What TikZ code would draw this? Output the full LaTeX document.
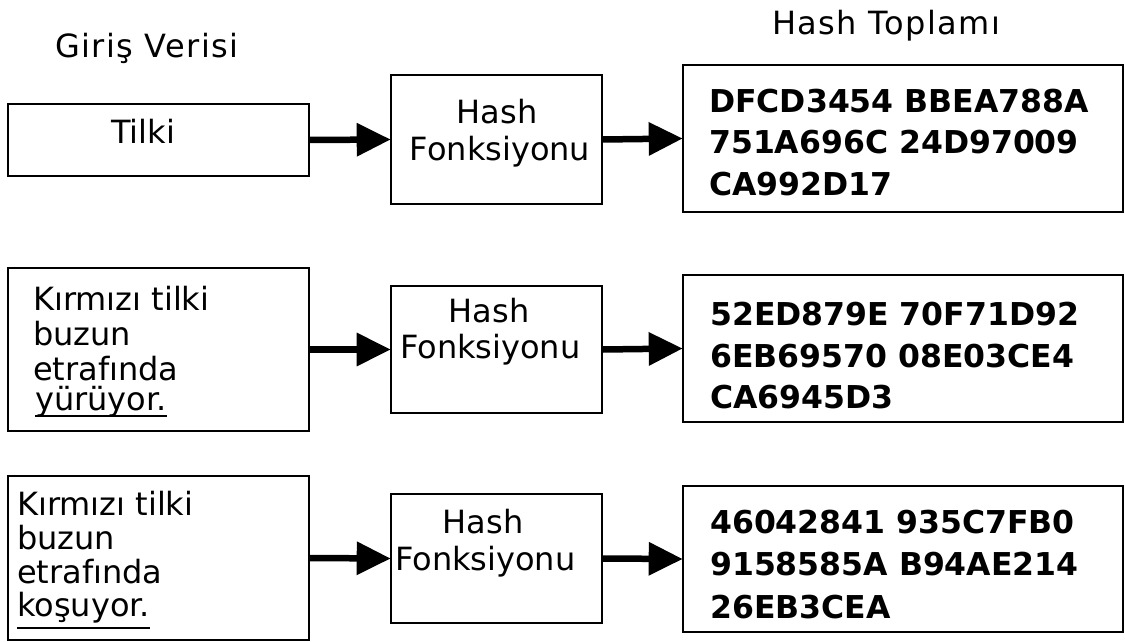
\documentclass[tikz,border=0pt]{standalone}
\usepackage{fontspec}
\setmainfont{DejaVu Sans}
\usetikzlibrary{arrows.meta,calc}

\tikzset{
  box/.style={draw=black, line width=1.6pt, fill=none, inner sep=0pt},
  txt/.style={inner sep=0pt, font=\fontsize{32}{38}\selectfont},
  head/.style={inner sep=0pt, anchor=base west, font=\fontsize{32}{38}\selectfont\addfontfeature{LetterSpace=4.5}},
  hex/.style={inner sep=0pt, font=\fontsize{31.5}{38}\selectfont\bfseries, anchor=base west},
  uline/.style={line width=2.4pt},
  flow/.style={line width=6.5pt, -{Triangle[length=34pt, width=32pt]}, shorten >=-0.5pt}
}

\begin{document}
\begin{tikzpicture}[x=1pt, y=-1pt]
  \useasboundingbox (0,0) rectangle (1125,642);

  % column headings
  \node[head] (hin)  at (55,58)  {Giriş Verisi};
  \node[head] (hout) at (772,35) {Hash Toplamı};

  % input boxes
  \node[box, minimum width=301pt, minimum height=72pt]  (in1) at (158.5,140)   {};
  \node[box, minimum width=301pt, minimum height=163pt] (in2) at (158.5,349.5) {};
  \node[box, minimum width=301pt, minimum height=164pt] (in3) at (158.5,558)   {};

  % hash function boxes
  \node[box, minimum width=211pt, minimum height=129pt] (hf1) at (496.5,139.5) {};
  \node[box, minimum width=211pt, minimum height=127pt] (hf2) at (496.5,349.5) {};
  \node[box, minimum width=211pt, minimum height=129pt] (hf3) at (496.5,558.5) {};

  % digest boxes
  \node[box, minimum width=440pt, minimum height=147pt] (out1) at (903,138.5) {};
  \node[box, minimum width=440pt, minimum height=147pt] (out2) at (903,348.5) {};
  \node[box, minimum width=440pt, minimum height=146pt] (out3) at (903,559)   {};

  % input texts
  \node[txt, anchor=base] (t1) at (143,143) {Tilki};

  \node[txt, anchor=base west] (t2a) at (33,310) {Kırmızı tilki};
  \node[txt, anchor=base west] (t2b) at (33,345) {buzun};
  \node[txt, anchor=base west] (t2c) at (33,380) {etrafında};
  \node[txt, anchor=base west] (t2d) at (35,410) {yürüyor.};
  \draw[uline] ($(t2d.base west)+(0,6)$) -- ($(t2d.base east)+(0,6)$);

  \node[txt, anchor=base west] (t3a) at (17,515) {Kırmızı tilki};
  \node[txt, anchor=base west] (t3b) at (17,549) {buzun};
  \node[txt, anchor=base west] (t3c) at (17,583) {etrafında};
  \node[txt, anchor=base west] (t3d) at (17,616) {koşuyor.};
  \draw[uline] ($(t3d.base west)+(0,12)$) -- ($(t3d.base east)+(0,12)$);

  % hash function labels
  \node[txt, anchor=base] (f1a) at (497,123) {Hash};
  \node[txt, anchor=base] (f1b) at (500,160) {Fonksiyonu};
  \node[txt, anchor=base] (f2a) at (489,322) {Hash};
  \node[txt, anchor=base west] (f2b) at (400,358) {Fonksiyonu};
  \node[txt, anchor=base] (f3a) at (483,533) {Hash};
  \node[txt, anchor=base west] (f3b) at (395,570) {Fonksiyonu};

  % digests
  \node[hex] (d1a) at (709,113) {DFCD3454 BBEA788A};
  \node[hex] (d1b) at (709,153) {751A696C 24D97009};
  \node[hex] (d1c) at (709,195) {CA992D17};

  \node[hex] (d2a) at (710,325) {52ED879E 70F71D92};
  \node[hex] (d2b) at (710,367) {6EB69570 08E03CE4};
  \node[hex] (d2c) at (710,408) {CA6945D3};

  \node[hex] (d3a) at (710,533) {46042841 935C7FB0};
  \node[hex] (d3b) at (710,575) {9158585A B94AE214};
  \node[hex] (d3c) at (710,618) {26EB3CEA};

  % connectors
  \draw[flow] (in1.east) -- (hf1.west);
  \draw[flow] (hf1.east) -- (out1.west);
  \draw[flow] (in2.east) -- (hf2.west);
  \draw[flow] (hf2.east) -- (out2.west);
  \draw[flow] (in3.east) -- (hf3.west);
  \draw[flow] (hf3.east) -- (out3.west);
\end{tikzpicture}
\end{document}
